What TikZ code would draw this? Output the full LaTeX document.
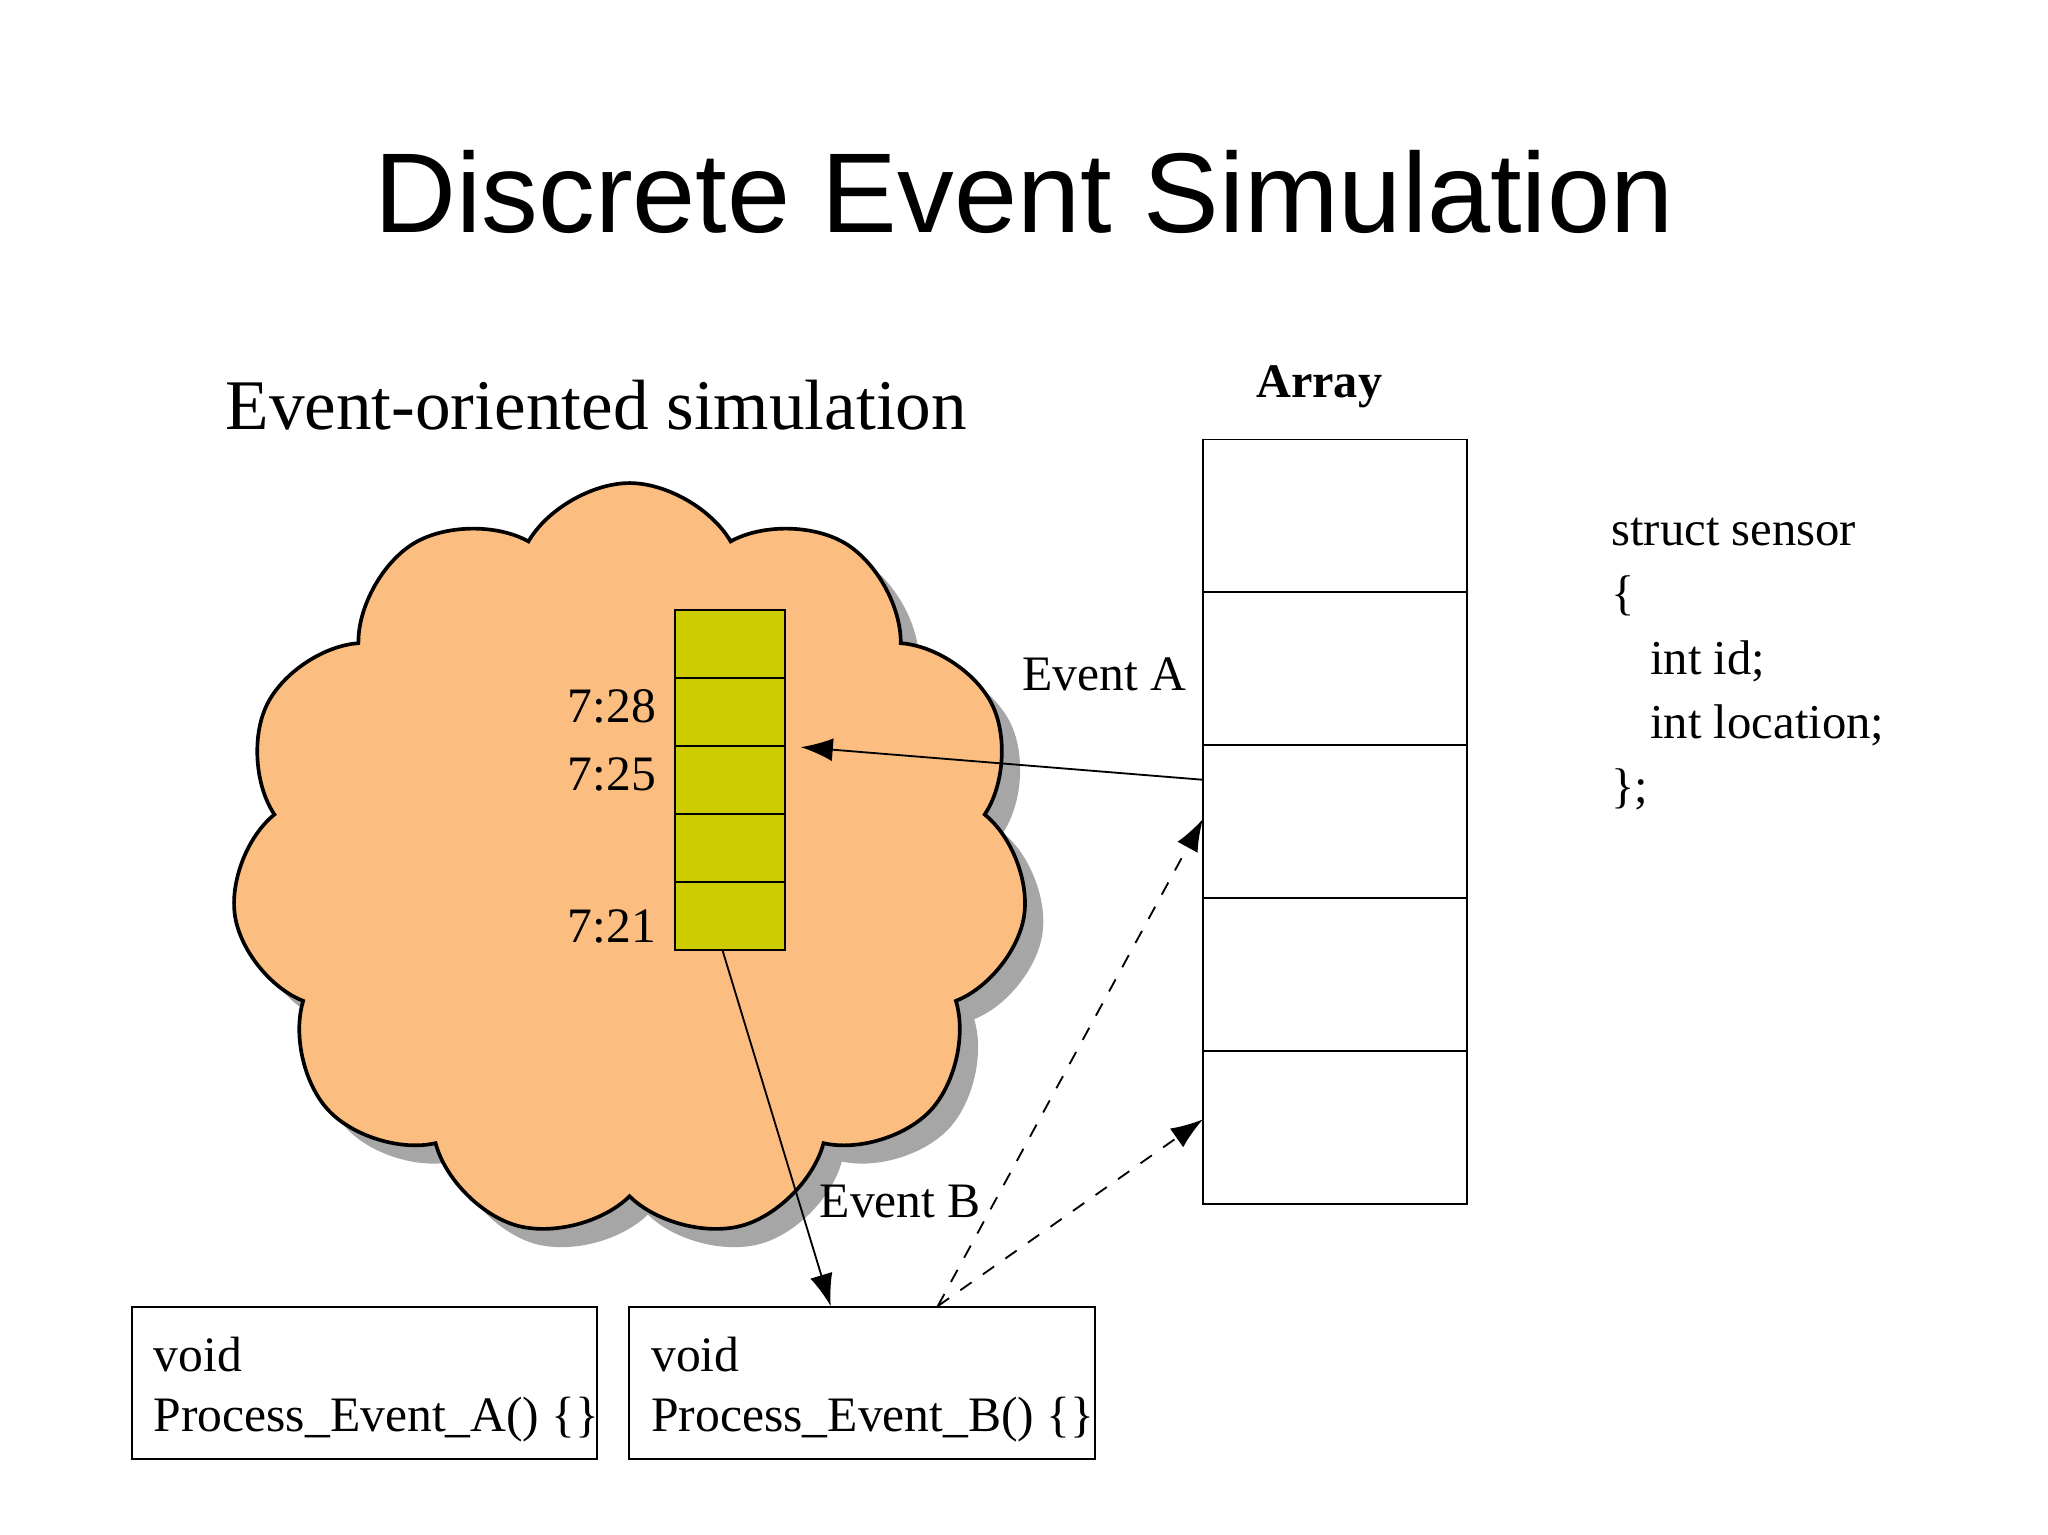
\documentclass[tikz,border=0pt]{standalone}
\usepackage{fontspec}
\setmainfont{Liberation Serif}
\newfontfamily\titlefont{Liberation Sans}
\usetikzlibrary{shapes.symbols,arrows.meta}
\definecolor{cloudc}{RGB}{251,190,128}
\definecolor{cellc}{RGB}{204,204,0}
\tikzset{
  lbl/.style={font=\fontsize{10.8}{13}\selectfont, inner sep=0pt},
  cell/.style={draw, fill=cellc, minimum width=0.84cm, minimum height=0.52cm, inner sep=0pt},
  acell/.style={draw, minimum width=2.02cm, minimum height=1.17cm, inner sep=0pt},
  fbox/.style={draw, minimum width=3.56cm, minimum height=1.16cm, inner sep=0pt},
  arr/.style={-{Latex[length=7pt,width=5pt]}, thin},
  darr/.style={arr, dashed},
  cloudsh/.style={cloud, cloud puffs=11, cloud puff arc=120, aspect=1.05, minimum width=6.1cm, minimum height=5.8cm}
}
\begin{document}
\begin{tikzpicture}[x=0.01cm,y=-0.01cm]
\useasboundingbox (0,0) rectangle (1568,1175);
\node[font=\titlefont\fontsize{24.7}{28}\selectfont] (title) at (784,147) {Discrete Event Simulation};
\node[font=\fontsize{15.5}{18}\selectfont, anchor=west, inner sep=0pt] (sub) at (172,310) {Event-oriented simulation};
% cloud with shadow
\node[cloudsh, fill=gray!70] at (496,674) {};
\node[cloudsh, draw, thick, fill=cloudc] (cloud) at (482,660) {};
% queue cells
\node[cell] (q1) at (559,493) {};
\node[cell] (q2) at (559,545) {};
\node[cell] (q3) at (559,597) {};
\node[cell] (q4) at (559,649) {};
\node[cell] (q5) at (559,701) {};
\node[lbl, anchor=east] (t1) at (503,541) {7:28};
\node[lbl, anchor=east] (t2) at (503,593) {7:25};
\node[lbl, anchor=east] (t3) at (503,709) {7:21};
% array
\node[font=\bfseries\fontsize{10.5}{12}\selectfont] (arrlbl) at (1010,296) {Array};
\node[acell] (a1) at (1022,395) {};
\node[acell] (a2) at (1022,512) {};
\node[acell] (a3) at (1022,629) {};
\node[acell] (a4) at (1022,746) {};
\node[acell] (a5) at (1022,863) {};
% struct
\node[font=\fontsize{10.6}{14}\selectfont, anchor=north west, align=left, inner sep=0pt] (struct) at (1233,396)
 {struct sensor\\\{\\\hspace{0.8em}int id;\\\hspace{0.8em}int location;\\\};};
% boxes
\node[fbox] (fa) at (279,1059) {};
\node[fbox] (fb) at (660,1059) {};
\node[lbl, anchor=west] at (117,1037) {void};
\node[lbl, anchor=west] at (117,1087) {Process\_Event\_A() \{\}};
\node[lbl, anchor=west] at (498,1037) {void};
\node[lbl, anchor=west] at (498,1087) {Process\_Event\_B() \{\}};
% coordinates
\coordinate (ea) at (921,597);
\coordinate (eaend) at (613,572);
\coordinate (eb) at (553,727);
\coordinate (ebend) at (636,1000);
\coordinate (ds) at (718,1000);
\coordinate (d1) at (921,627);
\coordinate (d2) at (921,857);
\draw[arr] (ea) -- (eaend);
\draw[arr] (eb) -- (ebend);
\draw[darr] (ds) -- (d1);
\draw[darr] (ds) -- (d2);
\node[lbl, anchor=west] (evA) at (782,516) {Event A};
\node[lbl, anchor=west] (evB) at (627,920) {Event B};
\end{tikzpicture}
\end{document}
